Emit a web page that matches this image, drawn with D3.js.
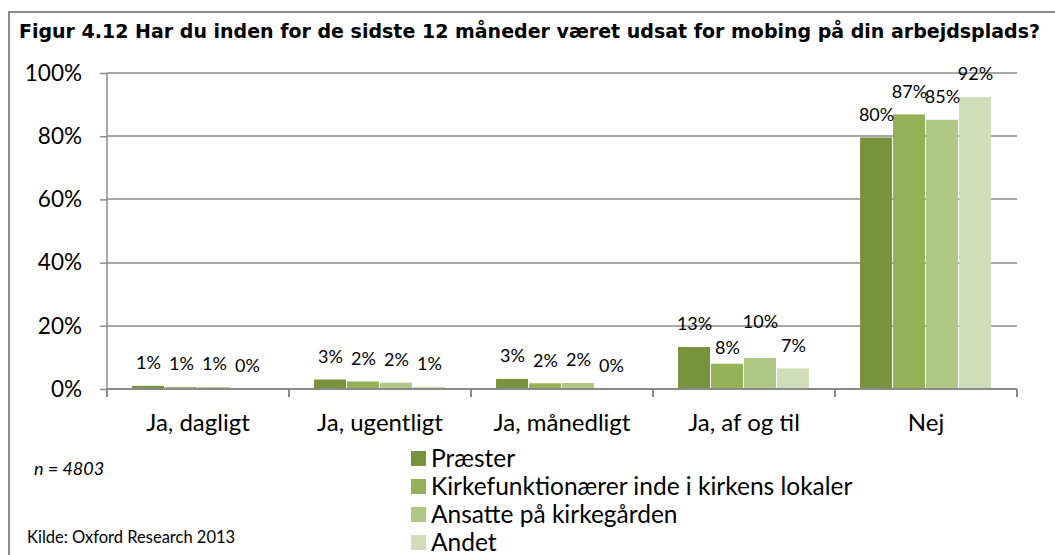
<!DOCTYPE html>
<html>
<head>
<meta charset="utf-8">
<script src="https://cdn.jsdelivr.net/npm/d3@7"></script>
<style>
  body { margin: 0; background: #fff; }
  svg text { font-family: Lato, "Open Sans", sans-serif; fill: #000; }
</style>
</head>
<body>
<script>
(function() {

    const width = 1055;
    const height = 555;

    // chart data
    const categories = ["Ja, dagligt", "Ja, ugentligt", "Ja, månedligt", "Ja, af og til", "Nej"];
    const seriesNames = ["Præster", "Kirkefunktionærer inde i kirkens lokaler", "Ansatte på kirkegården", "Andet"];
    const praester = [0.010, 0.030, 0.032, 0.133, 0.796];
    const kirkefunktionaerer = [0.006, 0.024, 0.018, 0.080, 0.869];
    const ansatte = [0.006, 0.020, 0.019, 0.098, 0.852];
    const andet = [0.001, 0.007, 0.002, 0.065, 0.924];
    const yTicks = [0, 0.2, 0.4, 0.6, 0.8, 1.0];

    const titleText = "Figur 4.12 Har du inden for de sidste 12 måneder været udsat for mobing på din arbejdsplads?";
    const noteText = "n = 4803";
    const sourceText = "Kilde: Oxford Research 2013";

    const colors = ["#77933c", "#93b257", "#afc886", "#d0ddb8"];

    // label nudges (excel moves overlapping labels)
    const labelNudge = { "3-1": 7, "3-2": -13 };

    const allSeries = [praester, kirkefunktionaerer, ansatte, andet];

    const margin = { left: 107, right: 38, top: 73, bottom: 166 };

    const svg = d3.select("body").append("svg")
        .attr("width", width)
        .attr("height", height);

    // outer frame
    svg.append("path")
        .attr("d", "M9,556 L9,12 L1056,12")
        .attr("fill", "none")
        .attr("stroke", "#8c8c8c")
        .attr("stroke-width", 2);

    // title, squeezed to fit the frame
    const title = svg.append("text")
        .attr("x", 19)
        .attr("y", 38)
        .style("font-family", "'DejaVu Sans Condensed', 'DejaVu Sans', sans-serif")
        .style("font-stretch", "condensed")
        .style("font-weight", "bold")
        .style("font-size", "20px")
        .text(titleText);
    title.attr("textLength", 1021).attr("lengthAdjust", "spacingAndGlyphs");

    const x0 = d3.scaleBand()
        .domain(categories)
        .range([margin.left, width - margin.right])
        .paddingInner(0)
        .paddingOuter(0);

    const x1 = d3.scaleBand()
        .domain(d3.range(seriesNames.length))
        .range([0, x0.bandwidth()])
        .paddingOuter(0.76)
        .paddingInner(0);

    const y = d3.scaleLinear()
        .domain([0, 1])
        .range([height - margin.bottom, margin.top]);

    // gridlines
    svg.append("g")
        .selectAll("line")
        .data(yTicks.slice(1))
        .enter()
        .append("line")
        .attr("x1", margin.left)
        .attr("x2", width - margin.right)
        .attr("y1", d => Math.round(y(d)))
        .attr("y2", d => Math.round(y(d)))
        .attr("stroke", "#8a8a8a")
        .attr("stroke-width", 1.5);

    // bars
    const groups = svg.append("g")
        .selectAll("g")
        .data(categories)
        .enter()
        .append("g")
        .attr("transform", d => "translate(" + x0(d) + ",0)");

    groups.selectAll("rect")
        .data((d, i) => allSeries.map((s, j) => ({ cat: i, series: j, value: s[i] })))
        .enter()
        .append("rect")
        .attr("x", d => x1(d.series))
        .attr("y", d => y(d.value))
        .attr("width", x1.bandwidth() - 1)
        .attr("height", d => y(0) - y(d.value))
        .style("fill", d => colors[d.series]);

    // data labels
    const fmt = d3.format(".0%");
    groups.selectAll("text")
        .data((d, i) => allSeries.map((s, j) => ({ cat: i, series: j, value: s[i] })))
        .enter()
        .append("text")
        .attr("x", d => x1(d.series) + x1.bandwidth() / 2)
        .attr("y", d => y(d.value) - 23 + (labelNudge[d.cat + "-" + d.series] || 0))
        .attr("dy", "0.35em")
        .attr("text-anchor", "middle")
        .style("font-size", "18px")
        .text(d => fmt(Math.round(d.value * 100) / 100));

    // y axis
    const yAxis = d3.axisLeft(y)
        .tickValues(yTicks)
        .tickFormat(d3.format(".0%"))
        .tickSize(7)
        .tickPadding(18);

    const ya = svg.append("g")
        .attr("transform", "translate(" + margin.left + ",0)")
        .call(yAxis);
    ya.select(".domain").attr("stroke", "#8a8a8a").attr("stroke-width", 1.5)
        .attr("d", "M0," + y(0) + "V" + y(1));
    ya.selectAll(".tick line").attr("stroke", "#8a8a8a").attr("stroke-width", 1.5);
    ya.selectAll(".tick text").style("font-size", "22.5px").style("font-family", "Lato, sans-serif");

    // x axis
    const xa = svg.append("g")
        .attr("transform", "translate(0," + y(0) + ")");
    xa.append("line")
        .attr("x1", margin.left)
        .attr("x2", width - margin.right)
        .attr("stroke", "#8a8a8a")
        .attr("stroke-width", 2);
    xa.selectAll("line.tick")
        .data(categories.concat([null]))
        .enter()
        .append("line")
        .attr("class", "tick")
        .attr("x1", (d, i) => i < categories.length ? x0(d) : x0.range()[1])
        .attr("x2", (d, i) => i < categories.length ? x0(d) : x0.range()[1])
        .attr("y1", 0)
        .attr("y2", 8)
        .attr("stroke", "#8a8a8a")
        .attr("stroke-width", 2);
    xa.selectAll("text")
        .data(categories)
        .enter()
        .append("text")
        .attr("x", d => x0(d) + x0.bandwidth() / 2)
        .attr("y", 42)
        .attr("text-anchor", "middle")
        .style("font-size", "24px")
        .text(d => d);

    // legend
    const legend = svg.append("g")
        .selectAll("g")
        .data(seriesNames)
        .enter()
        .append("g")
        .attr("transform", (d, i) => "translate(411," + (451 + i * 28) + ")");

    legend.append("rect")
        .attr("width", 15)
        .attr("height", 15)
        .style("fill", (d, i) => colors[i]);

    legend.append("text")
        .attr("x", 20)
        .attr("y", 16)
        .style("font-size", "24.5px")
        .text(d => d);

    // notes
    svg.append("text")
        .attr("x", 34)
        .attr("y", 475)
        .style("font-size", "18px")
        .style("font-style", "italic")
        .text(noteText);

    svg.append("text")
        .attr("x", 27)
        .attr("y", 543)
        .style("font-size", "16.5px")
        .text(sourceText);

})();
</script>
</body>
</html>
